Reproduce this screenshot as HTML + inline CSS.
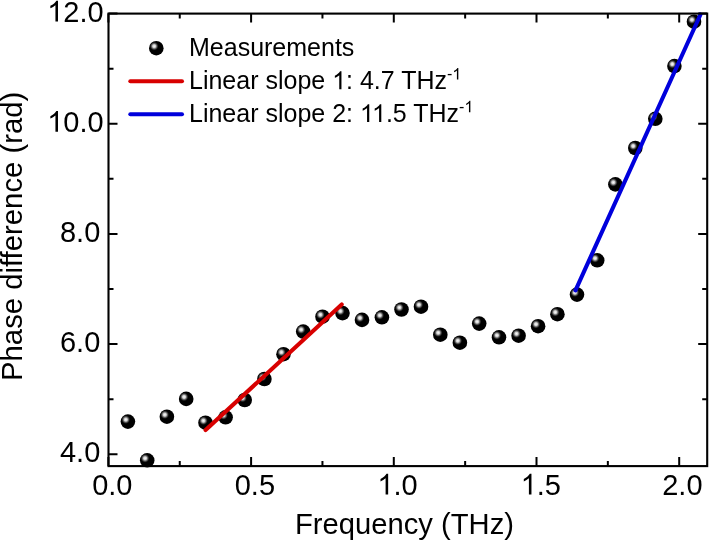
<!DOCTYPE html>
<html><head><meta charset="utf-8"><style>
html,body{margin:0;padding:0;background:#fff;}
body{width:709px;height:541px;overflow:hidden;}
svg{display:block;will-change:transform;}
text{font-family:"Liberation Sans",sans-serif;fill:#000;}
.tl{font-size:29px;}
.lg{font-size:25px;}
.sp{font-size:16px;}
.yt{font-size:29.3px;}
.xt{font-size:29.2px;}
</style></head><body>
<svg width="709" height="541" viewBox="0 0 709 541">
<defs><radialGradient id="hl" cx="0.5" cy="0.5" r="0.5"><stop offset="0" stop-color="#fff" stop-opacity="1"/><stop offset="0.35" stop-color="#e4e4e4" stop-opacity="0.9"/><stop offset="0.7" stop-color="#888" stop-opacity="0.45"/><stop offset="1" stop-color="#000" stop-opacity="0"/></radialGradient><g id="ball"><circle r="7.3" fill="#000"/><circle cx="-2.1" cy="-2.0" r="4.6" fill="url(#hl)"/></g></defs>
<path d="M108.40 466.1V457.1M108.40 13.6V22.6M179.75 466.1V461.1M179.75 13.6V18.6M251.10 466.1V457.1M251.10 13.6V22.6M322.45 466.1V461.1M322.45 13.6V18.6M393.80 466.1V457.1M393.80 13.6V22.6M465.15 466.1V461.1M465.15 13.6V18.6M536.50 466.1V457.1M536.50 13.6V22.6M607.85 466.1V461.1M607.85 13.6V18.6M679.20 466.1V457.1M679.20 13.6V22.6M108.5 13.60H117.5M707.2 13.60H698.2M108.5 68.68H113.5M707.2 68.68H702.2M108.5 123.76H117.5M707.2 123.76H698.2M108.5 178.84H113.5M707.2 178.84H702.2M108.5 233.92H117.5M707.2 233.92H698.2M108.5 289.00H113.5M707.2 289.00H702.2M108.5 344.08H117.5M707.2 344.08H698.2M108.5 399.16H113.5M707.2 399.16H702.2M108.5 454.24H117.5" stroke="#000" stroke-width="2" fill="none"/>
<use href="#ball" x="127.9" y="421.6"/>
<use href="#ball" x="147.2" y="460.3"/>
<use href="#ball" x="166.9" y="416.7"/>
<use href="#ball" x="186.2" y="398.9"/>
<use href="#ball" x="205.5" y="422.7"/>
<use href="#ball" x="225.6" y="417.3"/>
<use href="#ball" x="244.7" y="400.0"/>
<use href="#ball" x="264.4" y="379.0"/>
<use href="#ball" x="283.5" y="354.2"/>
<use href="#ball" x="303.2" y="331.6"/>
<use href="#ball" x="322.5" y="316.7"/>
<use href="#ball" x="342.5" y="313.1"/>
<use href="#ball" x="362.0" y="319.9"/>
<use href="#ball" x="381.9" y="317.3"/>
<use href="#ball" x="401.5" y="309.5"/>
<use href="#ball" x="421.0" y="306.7"/>
<use href="#ball" x="440.3" y="334.7"/>
<use href="#ball" x="459.9" y="342.7"/>
<use href="#ball" x="479.2" y="323.6"/>
<use href="#ball" x="499.0" y="337.3"/>
<use href="#ball" x="518.6" y="335.7"/>
<use href="#ball" x="538.1" y="326.2"/>
<use href="#ball" x="557.4" y="314.2"/>
<use href="#ball" x="577.0" y="294.6"/>
<use href="#ball" x="597.2" y="260.3"/>
<use href="#ball" x="615.4" y="184.4"/>
<use href="#ball" x="635.3" y="148.0"/>
<use href="#ball" x="655.3" y="118.8"/>
<use href="#ball" x="674.4" y="66.1"/>
<use href="#ball" x="694.0" y="21.7"/>
<line x1="205.6" y1="430.1" x2="341.7" y2="304.5" stroke="#d80000" stroke-width="4.1" stroke-linecap="round"/>
<line x1="575.5" y1="290.3" x2="700.5" y2="14.5" stroke="#0000dc" stroke-width="4.1" stroke-linecap="round"/>
<rect x="108.5" y="13.6" width="598.7" height="452.5" fill="none" stroke="#000" stroke-width="2.1"/>
<path transform="translate(47.19,21.50) scale(0.014160,-0.014160)" d="M763 0L583 0L583 1147C540 1106 483 1065 413 1024C343 983 280 952 223 931L223 1105C324 1152 412 1210 487 1276C562 1343 615 1406 647 1466L763 1466Z"/>
<text x="63.30 79.42 87.47" y="21.5" style="font-size:29px" transform="matrix(1 0 0 1.03 0 -0.645)">2.0</text>
<path transform="translate(47.19,131.80) scale(0.014160,-0.014160)" d="M763 0L583 0L583 1147C540 1106 483 1065 413 1024C343 983 280 952 223 931L223 1105C324 1152 412 1210 487 1276C562 1343 615 1406 647 1466L763 1466Z"/>
<text x="63.30 79.42 87.47" y="131.8" style="font-size:29px" transform="matrix(1 0 0 1.03 0 -3.954)">0.0</text>
<text x="100.3" y="241.9" text-anchor="end" class="tl" transform="matrix(1 0 0 1.03 0 -7.257)">8.0</text>
<text x="100.3" y="351.9" text-anchor="end" class="tl" transform="matrix(1 0 0 1.03 0 -10.557)">6.0</text>
<text x="100.3" y="462.3" text-anchor="end" class="tl" transform="matrix(1 0 0 1.03 0 -13.869)">4.0</text>
<text x="112.3" y="494.6" text-anchor="middle" class="tl" transform="matrix(1 0 0 1.03 0 -14.838)">0.0</text>
<text x="254.9" y="494.6" text-anchor="middle" class="tl" transform="matrix(1 0 0 1.03 0 -14.838)">0.5</text>
<path transform="translate(377.35,494.60) scale(0.014160,-0.014160)" d="M763 0L583 0L583 1147C540 1106 483 1065 413 1024C343 983 280 952 223 931L223 1105C324 1152 412 1210 487 1276C562 1343 615 1406 647 1466L763 1466Z"/>
<text x="393.47 401.52" y="494.6" style="font-size:29px" transform="matrix(1 0 0 1.03 0 -14.838)">.0</text>
<path transform="translate(520.65,494.60) scale(0.014160,-0.014160)" d="M763 0L583 0L583 1147C540 1106 483 1065 413 1024C343 983 280 952 223 931L223 1105C324 1152 412 1210 487 1276C562 1343 615 1406 647 1466L763 1466Z"/>
<text x="536.77 544.82" y="494.6" style="font-size:29px" transform="matrix(1 0 0 1.03 0 -14.838)">.5</text>
<text x="682.4" y="494.6" text-anchor="middle" class="tl" transform="matrix(1 0 0 1.03 0 -14.838)">2.0</text>
<text x="295" y="533.8" class="xt">Frequency (THz)</text>
<text transform="translate(21.8,381) rotate(-90)" class="yt">Phase difference (rad)</text>
<use href="#ball" x="156.3" y="48.2"/>
<line x1="130.3" y1="81.2" x2="182" y2="81.2" stroke="#d80000" stroke-width="4" stroke-linecap="round"/>
<line x1="130.3" y1="114.2" x2="182" y2="114.2" stroke="#0000dc" stroke-width="4" stroke-linecap="round"/>
<text x="189" y="55.6" class="lg">Measurements</text>
<path transform="translate(332.14,89.20) scale(0.012207,-0.012207)" d="M763 0L583 0L583 1147C540 1106 483 1065 413 1024C343 983 280 952 223 931L223 1105C324 1152 412 1210 487 1276C562 1343 615 1406 647 1466L763 1466Z"/>
<path transform="translate(452.36,79.40) scale(0.007812,-0.007812)" d="M763 0L583 0L583 1147C540 1106 483 1065 413 1024C343 983 280 952 223 931L223 1105C324 1152 412 1210 487 1276C562 1343 615 1406 647 1466L763 1466Z"/>
<text x="189.00 202.89 208.45 222.36 236.27 250.16 265.44 277.94 283.48 297.39 311.30 346.05 359.94 373.84 380.80 401.19 416.45 434.52" y="89.2" style="font-size:25px">Linearslope:4.7THz</text>
<text x="447.03" y="79.4" style="font-size:16px">-</text>
<path transform="translate(359.94,122.10) scale(0.012207,-0.012207)" d="M763 0L583 0L583 1147C540 1106 483 1065 413 1024C343 983 280 952 223 931L223 1105C324 1152 412 1210 487 1276C562 1343 615 1406 647 1466L763 1466Z"/>
<path transform="translate(371.98,122.10) scale(0.012207,-0.012207)" d="M763 0L583 0L583 1147C540 1106 483 1065 413 1024C343 983 280 952 223 931L223 1105C324 1152 412 1210 487 1276C562 1343 615 1406 647 1466L763 1466Z"/>
<path transform="translate(464.41,112.30) scale(0.007812,-0.007812)" d="M763 0L583 0L583 1147C540 1106 483 1065 413 1024C343 983 280 952 223 931L223 1105C324 1152 412 1210 487 1276C562 1343 615 1406 647 1466L763 1466Z"/>
<text x="189.00 202.89 208.45 222.36 236.27 250.16 265.44 277.94 283.48 297.39 311.30 332.14 346.05 385.89 392.84 413.23 428.50 446.56" y="122.1" style="font-size:25px">Linearslope2:.5THz</text>
<text x="459.08" y="112.3" style="font-size:16px">-</text>
</svg>
</body></html>
